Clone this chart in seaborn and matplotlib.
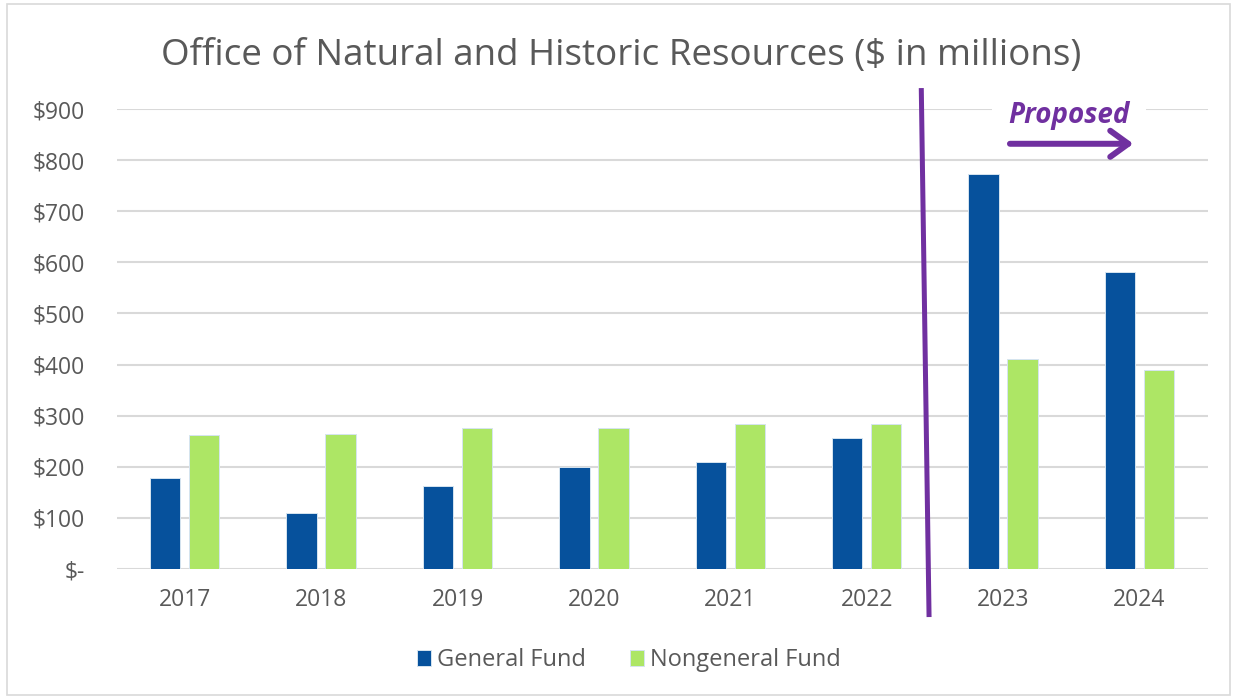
import numpy as np
import pandas as pd
import matplotlib
matplotlib.use("Agg")
import matplotlib.pyplot as plt
from matplotlib.patches import Rectangle
import seaborn as sns

## Data ($ in millions)
years = ["2017", "2018", "2019", "2020", "2021", "2022", "2023", "2024"]
general_fund = [179, 109, 163, 199, 209, 257, 772, 581]
nongeneral_fund = [262, 265, 275, 276, 284, 283, 410, 389]
series = ["General Fund", "Nongeneral Fund"]
colors = ["#06519C", "#ADE665"]
yticks = [0, 100, 200, 300, 400, 500, 600, 700, 800, 900]

df = pd.DataFrame({
    "year": years * 2,
    "value": general_fund + nongeneral_fund,
    "fund": [series[0]] * len(years) + [series[1]] * len(years),
})

## Style
sns.set_theme(style="white")
plt.rcParams["font.family"] = ["Open Sans", "DejaVu Sans"]
text_gray = "#595959"
purple = "#7030A0"

fig = plt.figure(figsize=(12.33, 6.98), dpi=100)
ax = fig.add_axes([0.0945, 0.1848, 0.885, 0.659])

sns.barplot(data=df, x="year", y="value", hue="fund", palette=colors,
            saturation=1, width=0.572, gap=0.224, edgecolor="#d6e4f0",
            linewidth=0.7, legend=True, ax=ax, zorder=3)

ax.set_xlim(-0.5, len(years) - 0.5)
ax.set_ylim(0, 900)
ax.set_yticks(yticks)
ax.set_yticklabels(["$-" if v == 0 else f"${v}" for v in yticks])
ax.set_xlabel("")
ax.set_ylabel("")
ax.yaxis.grid(True, color="#D9D9D9", linewidth=1.5, zorder=0)
ax.set_axisbelow(True)
for s in ax.spines.values():
    s.set_visible(False)
ax.tick_params(axis="both", length=0, labelsize=16.5, colors=text_gray)
ax.tick_params(axis="x", pad=14)
ax.tick_params(axis="y", pad=23)

## Title
fig.text(0.504, 0.907, "Office of Natural and Historic Resources ($ in millions)",
         ha="center", va="baseline", fontsize=26.5, color=text_gray)

## Divider between actual and proposed
ax.plot([5.40, 5.457], [941, -94], color=purple, linewidth=3.6,
        clip_on=False, zorder=5, solid_capstyle="butt")

## Proposed label + arrow
ax.text(6.483, 872, "Proposed", ha="center", va="baseline", fontsize=20,
        fontweight="bold", fontstyle="italic", color=purple, zorder=6,
        bbox=dict(facecolor="white", edgecolor="none", pad=12))
ax.annotate("", xy=(6.955, 832), xytext=(6.05, 832),
            arrowprops=dict(arrowstyle="->,head_length=0.65,head_width=0.47",
                            mutation_scale=20, color=purple, lw=4.3,
                            shrinkA=0, shrinkB=0),
            zorder=6)

## Legend
handles, labels = ax.get_legend_handles_labels()
ax.get_legend().remove()
leg = fig.legend(handles, labels, loc="center", bbox_to_anchor=(0.51, 0.054),
                 ncol=2, frameon=False, fontsize=17, handlelength=0.62,
                 handleheight=0.62, handletextpad=0.25, columnspacing=1.86)
for t in leg.get_texts():
    t.set_color(text_gray)

## Chart border
fig.patches.append(Rectangle((6.5 / 1233, 3 / 698), 1223 / 1233, 691 / 698,
                             transform=fig.transFigure, fill=False,
                             edgecolor="#D9D9D9", linewidth=1.2))

fig.savefig("out.png", dpi=100)
